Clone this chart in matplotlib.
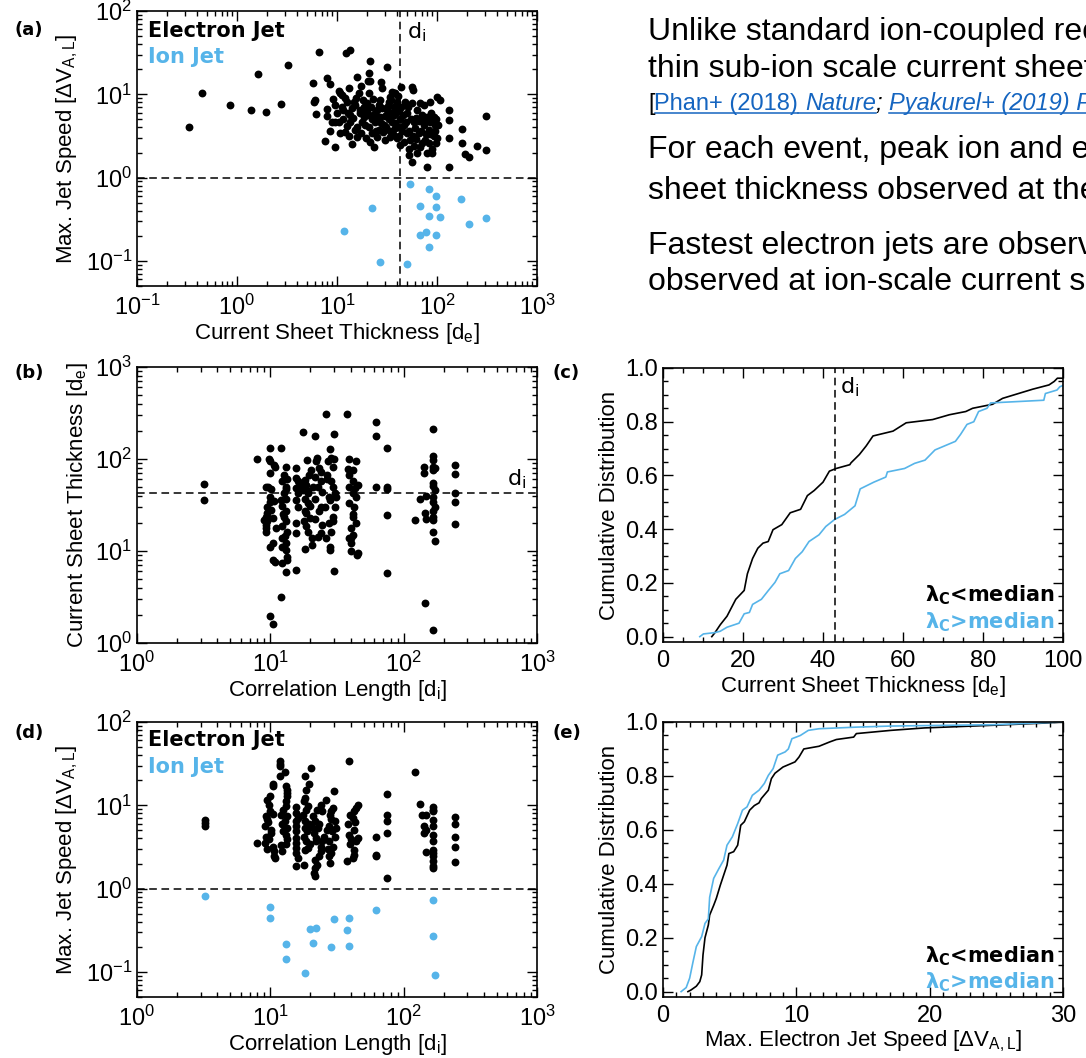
import numpy as np
import matplotlib.pyplot as plt
from matplotlib.lines import Line2D
from matplotlib.transforms import IdentityTransform

# ---------------- data ----------------
# (a) current sheet thickness [de] vs max. electron / ion jet speed
a_elec = [(0.334, 4.1), (0.449, 10.5), (0.845, 7.5), (1.38, 6.4), (1.63, 17.6), (1.95, 6.2),
          (2.78, 7.6), (3.22, 22.2), (6.58, 32.6), (12.2, 31), (13.5, 34), (21.5, 25.2),
          (31.6, 21.5), (5.75, 13.6), (7.94, 15.6), (8.57, 13.3), (15.8, 16.0), (20.7, 17.9),
          (17.5, 12.6), (20.2, 14.6), (21.4, 14.6), (27.7, 14.2), (5.97, 8.5), (5.83, 8.1),
          (6.2, 5.8), (7.5, 2.74), (7.94, 6.6), (7.94, 5.5), (9.1, 8.9), (9.6, 2.34), (9.6, 4.7),
          (10.4, 4.7), (10.5, 11.0), (10.8, 10.3), (11.2, 7.1), (11.2, 9.8), (12.1, 3.54),
          (11.6, 6.4), (12.6, 8.1), (13.1, 11.8), (13.6, 5.6), (13.6, 4.7), (14.1, 6.8),
          (14.7, 8.1), (15.2, 3.7), (15.8, 3.08), (16.5, 10.3), (17.1, 5.9), (17.8, 4.7),
          (18.5, 7.1), (19.2, 4.27), (19.9, 7.8), (20.7, 10.3), (20.7, 5.6), (21.5, 2.68),
          (22.4, 3.39), (23.2, 2.34), (24.2, 4.7), (25.1, 6.4), (25.1, 3.08), (26.1, 3.7),
          (27.1, 5.4), (27.1, 8.5), (28.2, 11.8), (29.3, 4.27), (30.4, 2.8), (31.6, 6.4),
          (32.8, 8.1), (34.1, 9.4), (35.5, 10.8), (36.8, 10.3), (38.3, 10.3), (39.8, 8.1),
          (36.8, 5.6), (35.5, 4.7), (38.3, 3.89), (34.1, 3.08), (39.8, 2.95), (41.3, 6.4),
          (43.0, 2.45), (43.5, 12.4), (43.0, 5.1), (46.4, 4.27), (48.2, 8.1), (50.1, 5.9),
          (50.1, 3.39), (52.0, 2.23), (52.0, 1.86), (54.1, 2.8), (56.2, 12.4), (57.0, 11.4),
          (56.2, 7.8), (58.3, 4.7), (60.7, 3.89), (63.1, 6.4), (65.5, 3.39), (63.1, 1.95),
          (56.2, 1.54), (68.1, 7.8), (70.8, 5.6), (73.5, 4.27), (73.5, 7.4), (76.4, 2.8),
          (79.4, 1.95), (79.4, 1.34), (82.5, 3.7), (85.7, 8.1), (85.7, 4.7), (89.1, 2.23),
          (92.6, 5.4), (92.6, 3.2), (96.2, 4.27), (100, 9.4), (100, 2.95), (108, 8.5),
          (131, 6.4), (131, 4.9), (131, 2.95), (131, 1.34), (178, 3.79), (178, 2.57),
          (192, 1.9), (207, 1.77), (251, 2.4), (311, 5.5), (311, 2.13),
          (9.0, 4.6), (10.0, 6.0), (10.7, 3.4), (11.5, 5.0), (12.0, 9.0), (12.8, 6.0),
          (13.3, 3.2), (14.5, 5.2), (15.0, 7.5), (15.5, 9.0), (16.0, 4.0), (16.8, 6.5),
          (17.5, 3.4), (18.0, 8.5), (18.8, 5.3), (19.5, 3.0), (20.0, 6.2), (21.0, 4.0),
          (21.8, 7.0), (22.5, 5.0), (23.0, 8.8), (23.8, 6.0), (24.5, 3.6), (25.5, 5.2),
          (26.5, 7.5), (27.5, 4.5), (28.5, 6.8), (29.0, 3.5), (30.0, 5.5), (31.0, 4.0),
          (32.0, 7.2), (33.0, 5.0), (33.5, 3.6), (34.5, 6.0), (35.0, 8.5), (36.0, 3.3),
          (37.5, 7.0), (38.0, 4.5), (39.0, 6.0), (40.5, 4.0), (41.0, 9.5), (42.0, 3.2),
          (44.0, 7.0), (45.0, 3.6), (46.0, 5.6), (47.0, 2.7), (49.0, 4.6), (51.0, 7.0),
          (53.0, 3.6), (55.0, 5.0), (57.5, 3.2), (59.0, 2.4), (61.0, 5.2), (62.0, 2.9),
          (66.0, 4.8), (67.0, 2.3), (69.0, 3.6), (71.0, 2.6), (75.0, 4.9), (77.0, 3.3),
          (80.0, 5.4), (83.0, 2.6), (86.0, 3.3), (88.0, 6.0), (90.0, 2.0), (95.0, 3.6),
          (98.0, 5.0), (103.0, 4.3), (98.0, 2.6), (8.5, 3.6), (9.5, 7.5), (12.5, 4.2), (14.0, 2.5)]
a_ion = [(53.3, 0.83), (83.8, 0.735), (97.2, 0.60), (175, 0.557), (22.5, 0.435), (67.2, 0.456),
         (98.8, 0.448), (83.8, 0.346), (107, 0.336), (312, 0.327), (210, 0.275), (11.7, 0.229),
         (77.3, 0.222), (68.2, 0.207), (97.2, 0.205), (83.8, 0.145), (27.2, 0.098), (50.4, 0.093)]

# (b) correlation length [di] vs current sheet thickness [de]
b_pts = [(3.2, 53), (3.2, 35.8), (8.0, 99.7), (9.9, 131), (12.0, 131), (9.7, 99), (9.9, 95),
         (9.9, 71), (9.2, 50), (9.6, 50), (9.4, 25.6), (9.2, 23.7), (9.4, 21), (9.2, 19.3),
         (9.2, 17.6), (9.2, 16), (9.9, 39), (9.9, 34), (10.1, 28), (9.6, 22.7), (10.4, 22.7),
         (9.9, 11.1), (10.4, 7.9), (10.9, 7.6), (9.9, 1.95), (10.4, 1.6), (10.7, 86), (10.9, 82),
         (13.1, 82), (12.6, 67), (12.2, 57), (13.1, 50), (12.6, 43), (13.1, 37), (12.2, 31),
         (13.1, 27), (12.6, 23.7), (13.1, 21), (12.2, 18.5), (13.3, 16.2), (12.2, 13.7),
         (13.1, 12.2), (12.2, 11.1), (13.1, 10.2), (12.2, 7.4), (13.3, 8.6), (13.3, 7.9),
         (13.2, 5.9), (12.0, 3.16), (15.5, 79), (15.5, 62), (16.0, 57), (15.5, 48), (16.0, 43),
         (15.5, 36), (16.0, 30), (15.5, 20), (15.5, 15.5), (15.5, 6.2), (16.0, 50), (17.5, 195),
         (18.1, 59), (18.6, 52), (17.5, 46), (19.2, 43), (18.1, 37), (19.2, 33), (18.1, 27),
         (19.8, 22.7), (17.8, 21), (18.6, 18.5), (19.2, 16.2), (20.4, 13.7), (20.4, 11.6),
         (18.1, 10.6), (19.4, 67), (20.2, 76), (18.9, 98), (21.5, 178), (22.4, 102), (23.1, 79),
         (21.7, 64), (23.8, 57), (22.8, 50), (24.6, 44), (21.7, 37), (23.8, 30), (23.1, 27),
         (21.7, 22), (24.6, 19.3), (23.8, 15.5), (22.8, 14.3), (26.1, 310), (29.8, 186),
         (28.0, 129), (28.6, 102), (27.0, 96), (29.4, 82), (26.4, 67), (28.6, 57), (29.4, 50),
         (30.4, 43), (27.4, 39), (28.0, 36), (30.4, 30), (29.4, 23.7), (29.4, 21), (28.6, 16),
         (26.1, 13.7), (28.0, 11.1), (28.0, 10.2), (29.8, 6.1), (31.3, 39), (37.3, 310),
         (39.0, 100), (44.0, 96), (41.4, 76), (39.0, 67), (41.4, 57), (39.0, 50), (45.3, 52),
         (41.4, 43), (44.0, 39), (39.0, 33), (42.7, 30), (41.4, 23.7), (44.0, 20), (40.2, 17.6),
         (41.4, 15), (39.0, 13.7), (40.2, 12.2), (40.2, 10), (45.3, 9.4), (44.7, 9.1),
         (62, 250), (62, 176), (62, 50), (74.5, 131), (74.5, 50), (74.5, 47), (74.5, 24.6),
         (74.5, 5.8), (122, 21.7), (133, 36.5), (141, 82), (141, 71), (146, 40), (144, 26),
         (146, 22), (144, 2.7), (166, 210), (166, 107), (166, 98), (166, 82), (166, 76),
         (171, 79), (166, 55), (166, 51), (171, 46), (166, 39), (166, 34), (171, 30), (166, 27),
         (166, 23.7), (166, 21.5), (166, 16), (171, 13), (166, 1.38), (242, 86), (242, 69),
         (242, 43), (242, 34), (242, 19.5),
         (10.2, 47), (9.5, 30), (10.6, 35), (11.0, 18), (12.4, 25), (13.0, 47), (12.8, 14.5),
         (9.0, 21.5), (10.4, 12.3), (13.3, 60), (12.0, 36), (17.0, 55), (18.5, 26), (20.0, 31),
         (19.0, 45), (21.0, 50), (24.0, 72), (22.0, 95), (25.5, 30), (26.8, 60), (30.0, 100),
         (27.5, 20), (38.5, 77), (42.0, 25), (43.5, 48), (40.0, 14)]

# (d) correlation length [di] vs max. electron / ion jet speed
d_elec = [(3.26, 6.6), (3.26, 6.1), (3.26, 5.7), (8.0, 3.5), (9.5, 11.7), (9.9, 8.5), (10.4, 7.9),
          (9.2, 7.4), (9.6, 6.3), (9.1, 5.6), (10.1, 5.1), (9.3, 4.2), (9.75, 3.9), (9.1, 3.5),
          (10.4, 3.2), (9.5, 3.0), (10.7, 2.8), (10.7, 2.44), (10.9, 2.33), (10.4, 16.9),
          (10.5, 18.0), (11.9, 33.7), (11.9, 31.6), (11.9, 29.4), (11.9, 22.3), (13.3, 15.4),
          (13.3, 14.1), (13.3, 12.8), (13.0, 11.2), (13.0, 9.7), (12.5, 8.9), (12.1, 7.7),
          (13.3, 7.4), (12.9, 6.4), (12.3, 5.9), (13.3, 5.3), (12.5, 4.9), (13.0, 4.4), (13.3, 3.9),
          (13.0, 3.4), (12.3, 2.8), (15.5, 9.5), (15.5, 8.1), (15.5, 6.4), (15.5, 5.6), (15.5, 4.9),
          (15.5, 4.1), (15.5, 3.5), (15.5, 3.1), (15.5, 2.7), (15.5, 1.85), (18.1, 22.3),
          (19.4, 18.2), (18.6, 15.4), (18.1, 12.2), (17.8, 11.2), (19.2, 9.7), (18.6, 8.9),
          (17.5, 7.7), (18.1, 6.4), (19.4, 5.9), (18.9, 4.9), (17.8, 4.2), (18.6, 3.7), (19.8, 3.4),
          (18.1, 2.94), (17.8, 1.94), (20.2, 28.1), (21.0, 7.4), (21.7, 6.4), (22.8, 5.3),
          (21.4, 4.7), (21.9, 3.7), (23.8, 3.2), (23.1, 2.44), (21.7, 2.23), (22.4, 1.94),
          (21.7, 1.77), (21.4, 1.54), (21.7, 1.41), (23.8, 10.2), (22.4, 8.9), (25.3, 4.2),
          (24.6, 3.7), (24.6, 8.5), (26.1, 11.7), (29.8, 14.7), (29.4, 9.3), (28.6, 8.5),
          (28.0, 7.7), (30.4, 6.4), (27.7, 5.6), (29.1, 4.9), (30.4, 4.2), (27.4, 3.7), (29.4, 3.2),
          (28.6, 2.7), (27.7, 2.44), (28.0, 2.03), (31.3, 5.3), (39.0, 33.7), (45.3, 10.2),
          (44.0, 9.3), (42.7, 8.5), (39.8, 7.7), (41.4, 7.0), (38.3, 5.9), (42.2, 5.1), (39.0, 4.4),
          (45.3, 4.1), (44.0, 3.7), (39.8, 3.4), (42.2, 2.94), (42.7, 2.56), (37.8, 2.13),
          (41.4, 2.33), (62, 4.2), (62, 2.56), (62, 2.44), (74.5, 13.7), (74.5, 7.7), (74.5, 6.4),
          (74.5, 4.7), (74.5, 1.34), (122, 25.1), (133, 10.4), (138, 7.7), (146, 7.7), (141, 5.6),
          (146, 5.1), (141, 4.7), (146, 2.75), (166, 9.5), (166, 8.9), (166, 8.5), (166, 6.7),
          (166, 5.6), (166, 4.4), (166, 3.7), (166, 2.94), (166, 2.7), (166, 2.44), (166, 2.13),
          (166, 1.89), (166, 1.77), (242, 7.2), (242, 5.9), (242, 4.2), (242, 3.2), (242, 2.07),
          (10.0, 13.0), (9.8, 10.0), (13.1, 17.0), (12.8, 25.0), (16.0, 7.0), (18.3, 5.3),
          (19.0, 3.1), (20.5, 5.5), (22.0, 4.1), (23.0, 6.0), (24.0, 2.8), (26.5, 5.0), (27.0, 3.0),
          (28.5, 6.8), (40.5, 3.9), (43.5, 6.3), (10.2, 4.6), (12.0, 3.3), (16.0, 2.3), (9.4, 6.9)]
d_ion = [(3.26, 0.81), (9.9, 0.597), (9.9, 0.445), (13.1, 0.217), (13.1, 0.141), (18.1, 0.097),
         (19.8, 0.331), (22.0, 0.34), (20.8, 0.223), (28.3, 0.201), (29.9, 0.428), (37.8, 0.322),
         (39.0, 0.445), (39.0, 0.203), (61.9, 0.55), (166, 0.724), (166, 0.268), (171, 0.091)]

# (c) cumulative distribution of current sheet thickness [de]
c_low = [(12.2, 0.0), (13.0, 0.015), (14.3, 0.044), (16.0, 0.076), (18.2, 0.139), (20.3, 0.172),
         (21.1, 0.234), (22.4, 0.291), (23.7, 0.329), (25.0, 0.348), (26.3, 0.354), (27.5, 0.398),
         (29.7, 0.417), (31.8, 0.461), (34.4, 0.474), (36.1, 0.525), (37.8, 0.544), (40.0, 0.575),
         (41.6, 0.616), (43.3, 0.626), (46.7, 0.640), (47.0, 0.647), (49.1, 0.678), (50.8, 0.71),
         (52.5, 0.747), (57.5, 0.765), (60.8, 0.796), (67.4, 0.808), (71.6, 0.826), (75.7, 0.838),
         (77.4, 0.85), (82.4, 0.865), (84.9, 0.887), (92.4, 0.921), (96.5, 0.937), (97.8, 0.95),
         (98.6, 0.962), (100, 0.962)]
c_high = [(9.2, 0.0), (10.1, 0.01), (13.0, 0.015), (14.3, 0.02), (16.0, 0.035), (19.0, 0.05),
          (20.3, 0.085), (21.6, 0.09), (22.4, 0.12), (24.6, 0.139), (26.3, 0.171), (28.0, 0.202),
          (29.2, 0.234), (31.4, 0.246), (33.1, 0.291), (34.8, 0.316), (36.5, 0.354), (39.0, 0.379),
          (40.7, 0.41), (42.9, 0.436), (45.4, 0.455), (48.0, 0.487), (49.3, 0.55), (52.7, 0.575),
          (55.7, 0.594), (56.1, 0.613), (60.4, 0.626), (62.9, 0.645), (65.5, 0.657), (68.0, 0.695),
          (73.1, 0.727), (74.4, 0.753), (76.0, 0.79), (77.7, 0.80), (78.9, 0.838), (81.0, 0.85),
          (81.9, 0.87), (95.2, 0.88), (95.6, 0.905), (98.5, 0.918), (99.2, 0.93), (100, 0.935)]

# (e) cumulative distribution of max. electron jet speed
e_low = [(1.87, 0.0), (2.1, 0.006), (2.5, 0.02), (2.76, 0.037), (2.9, 0.062), (3.0, 0.136),
         (3.15, 0.2), (3.4, 0.247), (3.5, 0.284), (3.8, 0.32), (4.0, 0.346), (4.3, 0.395),
         (4.55, 0.432), (4.8, 0.469), (4.94, 0.512), (5.3, 0.519), (5.6, 0.543), (5.83, 0.617),
         (6.1, 0.63), (6.5, 0.673), (6.85, 0.69), (7.2, 0.70), (7.37, 0.716), (7.9, 0.747),
         (8.13, 0.79), (8.4, 0.81), (9.0, 0.833), (9.9, 0.852), (10.2, 0.87), (10.56, 0.90),
         (11.7, 0.91), (12.5, 0.926), (13.0, 0.935), (14.3, 0.944), (14.5, 0.957), (17.1, 0.969),
         (19.6, 0.978), (24.8, 0.988), (28.6, 0.996), (29.9, 1.0)]
e_high = [(1.36, 0.0), (1.74, 0.015), (2.0, 0.05), (2.25, 0.11), (2.5, 0.167), (2.9, 0.204),
          (3.15, 0.253), (3.4, 0.27), (3.5, 0.35), (3.8, 0.42), (4.2, 0.457), (4.55, 0.488),
          (4.8, 0.543), (5.2, 0.574), (5.6, 0.623), (5.96, 0.673), (6.3, 0.685), (6.7, 0.728),
          (7.2, 0.747), (7.6, 0.772), (7.9, 0.802), (8.26, 0.827), (8.6, 0.877), (9.16, 0.889),
          (9.4, 0.90), (9.67, 0.938), (10.3, 0.95), (10.9, 0.969), (11.7, 0.975), (14.5, 0.981),
          (17.1, 0.985), (24.8, 0.99), (29.9, 1.0)]

di = 43  # ion inertial length in de

text_lines = ['Unlike standard ion-coupled reconnection, electron-only',
              'thin sub-ion scale current sheets',
              'For each event, peak ion and electron jet speeds',
              'sheet thickness observed at the',
              'Fastest electron jets are observed',
              'observed at ion-scale current sheets']

# ---------------- figure ----------------
plt.rcParams['font.family'] = ['Liberation Sans', 'DejaVu Sans']
plt.rcParams['mathtext.fontset'] = 'dejavusans'

W, H = 1086, 1058
fig = plt.figure(figsize=(W / 100, H / 100), dpi=100)
blue = '#56B4E9'
dash = (0, (5, 3))
bold = dict(family='DejaVu Sans', weight='bold')


def box(l, t, r, b):
    return fig.add_axes([l / W, 1 - b / H, (r - l) / W, (b - t) / H])


def style(ax):
    ax.tick_params(which='both', direction='in', top=True, right=True, labelsize=17)
    ax.tick_params(which='major', length=7.5, width=1)
    ax.tick_params(which='minor', length=3.5, width=1)
    ax.tick_params(axis='x', pad=6)
    for s in ax.spines.values():
        s.set_linewidth(1.2)


def xy(pts):
    return np.array(pts).T


speed_lbl = 'Max. Jet Speed [ΔV$_{\\mathregular{A,L}}$]'
thick_lbl = 'Current Sheet Thickness [d$_{\\mathregular{e}}$]'
corr_lbl = 'Correlation Length [d$_{\\mathregular{i}}$]'
ms = 32
lp = 1

# (a)
ax = box(137, 11, 537, 286)
x, y = xy(a_elec)
ax.scatter(x, y, s=ms, color='k', lw=0, zorder=3)
x, y = xy(a_ion)
ax.scatter(x, y, s=ms, color=blue, lw=0, zorder=3)
ax.set_xscale('log')
ax.set_yscale('log')
ax.set_xlim(0.1, 1000)
ax.set_ylim(0.05, 100)
ax.axhline(1, color='k', ls=dash, lw=1.1)
ax.axvline(di, color='k', ls=dash, lw=1.1)
ax.text(0.028, 0.927, 'Electron Jet', transform=ax.transAxes, fontsize=15, va='center', color='k', **bold)
ax.text(0.028, 0.833, 'Ion Jet', transform=ax.transAxes, fontsize=15, va='center', color=blue, **bold)
ax.text(0.675, 0.924, 'd$_{\\mathregular{i}}$', transform=ax.transAxes, fontsize=16,
        va='center', family='DejaVu Sans')
ax.set_xlabel(thick_lbl, fontsize=16, labelpad=lp)
ax.set_ylabel(speed_lbl, fontsize=16)
style(ax)

# (b)
ax = box(137, 367, 537, 643)
x, y = xy(b_pts)
ax.scatter(x, y, s=ms, color='k', lw=0, zorder=3)
ax.set_xscale('log')
ax.set_yscale('log')
ax.set_xlim(1, 1000)
ax.set_ylim(1, 1000)
ax.axhline(di, color='k', ls=dash, lw=1.1)
ax.text(0.925, 0.594, 'd$_{\\mathregular{i}}$', transform=ax.transAxes, fontsize=16,
        va='center', family='DejaVu Sans')
ax.set_xlabel(corr_lbl, fontsize=16, labelpad=lp)
ax.set_ylabel(thick_lbl, fontsize=16)
style(ax)

# (c)
ax = box(663, 368, 1063, 642)
x, y = xy(c_low)
ax.plot(x, y, color='k', lw=1.2)
x, y = xy(c_high)
ax.plot(x, y, color=blue, lw=1.2)
ax.axvline(di, color='k', ls=dash, lw=1.1)
ax.set_xlim(0, 100)
ax.set_ylim(-0.02, 1.0)
ax.set_xticks(np.arange(0, 101, 20))
ax.set_xticks(np.arange(0, 101, 5), minor=True)
ax.set_yticks(np.arange(0, 1.01, 0.2))
ax.set_yticks(np.arange(0, 1.01, 0.05), minor=True)
ax.yaxis.set_major_formatter(plt.FormatStrFormatter('%.1f'))
ax.text(0.443, 0.93, 'd$_{\\mathregular{i}}$', transform=ax.transAxes, fontsize=16,
        va='center', family='DejaVu Sans')
ax.text(0.978, 0.17, 'λ$_\\mathbf{C}$<median', transform=ax.transAxes, fontsize=15,
        ha='right', va='center', color='k', **bold)
ax.text(0.978, 0.072, 'λ$_\\mathbf{C}$>median', transform=ax.transAxes, fontsize=15,
        ha='right', va='center', color=blue, **bold)
ax.set_xlabel(thick_lbl, fontsize=16, labelpad=lp)
ax.set_ylabel('Cumulative Distribution', fontsize=16)
style(ax)

# (d)
ax = box(137, 722, 537, 997)
x, y = xy(d_elec)
ax.scatter(x, y, s=ms, color='k', lw=0, zorder=3)
x, y = xy(d_ion)
ax.scatter(x, y, s=ms, color=blue, lw=0, zorder=3)
ax.set_xscale('log')
ax.set_yscale('log')
ax.set_xlim(1, 1000)
ax.set_ylim(0.05, 100)
ax.axhline(1, color='k', ls=dash, lw=1.1)
ax.text(0.028, 0.935, 'Electron Jet', transform=ax.transAxes, fontsize=15, va='center', color='k', **bold)
ax.text(0.028, 0.836, 'Ion Jet', transform=ax.transAxes, fontsize=15, va='center', color=blue, **bold)
ax.set_xlabel(corr_lbl, fontsize=16, labelpad=lp)
ax.set_ylabel(speed_lbl, fontsize=16)
style(ax)

# (e)
ax = box(663, 722, 1063, 997)
x, y = xy(e_low)
ax.plot(x, y, color='k', lw=1.2)
x, y = xy(e_high)
ax.plot(x, y, color=blue, lw=1.2)
ax.set_xlim(0, 30)
ax.set_ylim(-0.02, 1.0)
ax.set_xticks([0, 10, 20, 30])
ax.set_xticks(np.arange(0, 31, 1), minor=True)
ax.set_yticks(np.arange(0, 1.01, 0.2))
ax.set_yticks(np.arange(0, 1.01, 0.05), minor=True)
ax.yaxis.set_major_formatter(plt.FormatStrFormatter('%.1f'))
ax.text(0.978, 0.15, 'λ$_\\mathbf{C}$<median', transform=ax.transAxes, fontsize=15,
        ha='right', va='center', color='k', **bold)
ax.text(0.978, 0.055, 'λ$_\\mathbf{C}$>median', transform=ax.transAxes, fontsize=15,
        ha='right', va='center', color=blue, **bold)
ax.set_xlabel('Max. Electron Jet Speed [ΔV$_{\\mathregular{A,L}}$]', fontsize=16, labelpad=lp)
ax.set_ylabel('Cumulative Distribution', fontsize=16)
style(ax)

# panel letters
for lbl, px, py in [('(a)', 14, 30), ('(b)', 14, 373), ('(c)', 553, 373),
                    ('(d)', 14, 733), ('(e)', 553, 733)]:
    fig.text(px / W, 1 - py / H, lbl, fontsize=13, va='center', **bold)

# text block top right
baselines = [40, 77, 158, 199, 254, 290]
for line, yb in zip(text_lines, baselines):
    fig.text(648 / W, 1 - yb / H, line, fontsize=23, va='baseline')

# citation line with underlined links
link = '#1565c0'
renderer = fig.canvas.get_renderer()
cite = [('[', 'k', 'normal', False, 0), ('Phan+ (2018)', link, 'normal', True, 1),
        ('Nature', link, 'italic', True, 0), (';', 'k', 'italic', False, 1),
        ('Pyakurel+ (2019) PoP', link, 'italic', True, 0), (']', 'k', 'normal', False, 0)]
xc = 648
yb = 110
space = 0.278 * 17 * 100 / 72
for s, col, st, ul, gap in cite:
    t = fig.text(xc / W, 1 - yb / H, s, fontsize=17, color=col, style=st, va='baseline')
    bb = t.get_window_extent(renderer)
    if ul:
        x0 = bb.x0 - space if s == 'Nature' else bb.x0
        fig.add_artist(Line2D([x0, bb.x1], [H - yb - 3, H - yb - 3], color=col, lw=1.1,
                              transform=IdentityTransform()))
    xc = bb.x1 + gap * space

fig.savefig('out.png', dpi=100)
